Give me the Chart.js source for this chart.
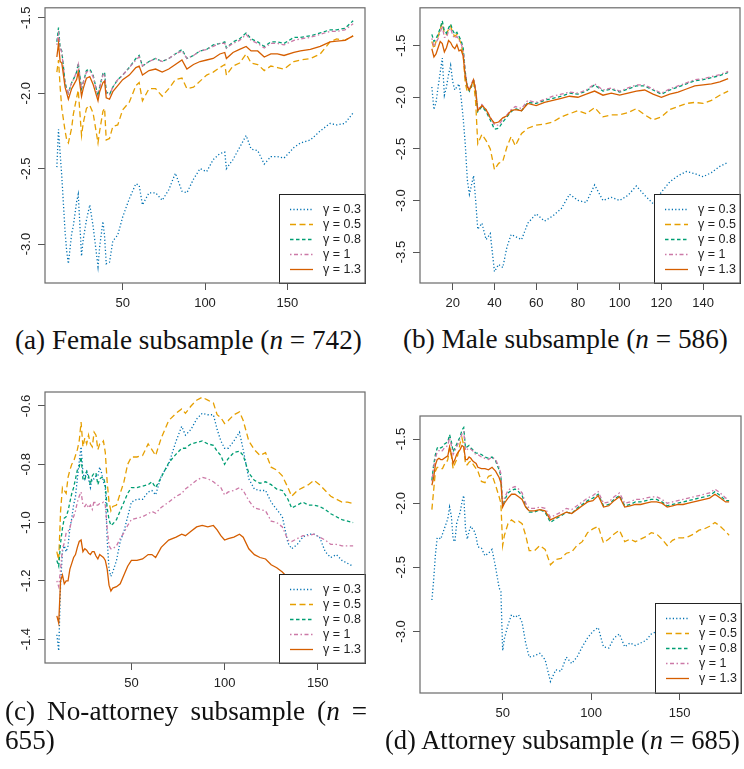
<!DOCTYPE html>
<html><head><meta charset="utf-8">
<script src="https://cdn.jsdelivr.net/npm/chart.js@4.4.1/dist/chart.umd.min.js"></script>
<style>
html,body{margin:0;padding:0;background:#fff;}
#wrap{position:relative;width:744px;height:769px;overflow:hidden;background:#fff;}
canvas{position:absolute;}
.cap{position:absolute;font-family:"Liberation Serif","Times New Roman",serif;color:#111;white-space:nowrap;line-height:1.15;display:inline-block;}
</style></head><body>
<div id="wrap">
<canvas id="cA" width="372" height="320" style="left:0;top:0"></canvas>
<canvas id="cB" width="372" height="320" style="left:372px;top:0"></canvas>
<canvas id="cC" width="372" height="320" style="left:0;top:380px"></canvas>
<canvas id="cD" width="372" height="330" style="left:372px;top:400px"></canvas>
<div id="capA" class="cap">(a) Female subsample (<i>n</i> = 742)</div>
<div id="capB" class="cap">(b) Male subsample (<i>n</i> = 586)</div>
<div id="capC1" class="cap">(c) No-attorney subsample (<i>n</i> =</div>
<div id="capC2" class="cap">655)</div>
<div id="capD" class="cap">(d) Attorney subsample (<i>n</i> = 685)</div>
</div>
<script>
// ---------- DATA ----------
const seriesLabels = ['γ = 0.3','γ = 0.5','γ = 0.8','γ = 1','γ = 1.3'];

// (a) Female subsample
const xFemale = [10,11,12,13,15,16,17,19,20,22,23,25,26,28,30,32,35,36,38,39,40,42,44,47,50,54,58,60,62,66,70,74,78,82,86,89,93,97,101,105,109,112,113,117,121,125,128,132,136,140,144,148,154,158,164,170,176,180,185,190];
const femaleG03 = [-2.49,-2.24,-2.40,-2.55,-2.92,-3.05,-3.13,-2.93,-2.88,-2.72,-2.67,-3.08,-2.97,-2.84,-2.74,-2.88,-3.15,-3.02,-2.85,-2.95,-3.13,-3.12,-2.98,-2.94,-2.82,-2.70,-2.60,-2.61,-2.74,-2.66,-2.66,-2.71,-2.64,-2.53,-2.65,-2.66,-2.57,-2.50,-2.52,-2.44,-2.40,-2.39,-2.50,-2.44,-2.36,-2.28,-2.37,-2.38,-2.47,-2.42,-2.42,-2.43,-2.36,-2.33,-2.31,-2.25,-2.20,-2.21,-2.20,-2.13];
const femaleG05 = [-1.86,-1.78,-1.96,-2.10,-2.25,-2.31,-2.33,-2.23,-2.14,-2.03,-1.98,-2.28,-2.20,-2.10,-2.08,-2.13,-2.33,-2.25,-2.12,-2.10,-2.31,-2.30,-2.22,-2.21,-2.11,-2.06,-1.95,-1.93,-2.05,-1.97,-1.97,-2.02,-1.97,-1.91,-1.90,-1.97,-1.96,-1.92,-1.88,-1.86,-1.83,-1.81,-1.88,-1.82,-1.80,-1.74,-1.80,-1.81,-1.85,-1.82,-1.83,-1.84,-1.79,-1.78,-1.77,-1.74,-1.66,-1.64,-1.65,-1.62];
const femaleG08 = [-1.66,-1.565,-1.70,-1.72,-1.93,-1.97,-2.00,-1.93,-1.91,-1.86,-1.80,-1.97,-1.93,-1.85,-1.84,-1.88,-2.02,-1.96,-1.87,-1.86,-1.99,-2.01,-1.96,-1.91,-1.88,-1.83,-1.77,-1.75,-1.82,-1.79,-1.77,-1.79,-1.77,-1.74,-1.71,-1.77,-1.75,-1.72,-1.71,-1.68,-1.67,-1.66,-1.70,-1.66,-1.64,-1.60,-1.64,-1.66,-1.69,-1.66,-1.66,-1.67,-1.63,-1.63,-1.62,-1.60,-1.58,-1.58,-1.57,-1.52];
const femaleG1 = [-1.68,-1.61,-1.70,-1.73,-1.94,-1.97,-2.00,-1.93,-1.91,-1.86,-1.81,-1.97,-1.93,-1.86,-1.85,-1.89,-2.02,-1.96,-1.88,-1.87,-2.00,-2.01,-1.96,-1.91,-1.88,-1.83,-1.78,-1.76,-1.82,-1.79,-1.77,-1.79,-1.77,-1.74,-1.72,-1.77,-1.75,-1.72,-1.71,-1.69,-1.67,-1.67,-1.70,-1.67,-1.65,-1.61,-1.65,-1.67,-1.70,-1.67,-1.67,-1.68,-1.65,-1.64,-1.63,-1.61,-1.59,-1.59,-1.58,-1.54];
const femaleG13 = [-1.76,-1.67,-1.79,-1.80,-1.96,-2.00,-2.04,-1.97,-1.95,-1.91,-1.86,-2.02,-1.97,-1.90,-1.89,-1.94,-2.05,-1.99,-1.93,-1.92,-2.03,-2.04,-1.99,-1.95,-1.91,-1.88,-1.83,-1.82,-1.88,-1.85,-1.84,-1.86,-1.84,-1.81,-1.78,-1.84,-1.81,-1.79,-1.78,-1.77,-1.74,-1.73,-1.77,-1.73,-1.71,-1.69,-1.72,-1.72,-1.76,-1.74,-1.74,-1.75,-1.73,-1.72,-1.71,-1.69,-1.66,-1.655,-1.65,-1.62];

// (b) Male subsample
const xMale = [10,11,12,13,14,15,16,17,18,19,20,21,22,23,24,25,26,27,28,29,30,31,32,34,36,38,40,42,44,46,48,50,53,56,60,64,68,72,76,80,84,88,92,96,100,104,108,112,116,120,124,128,132,136,140,144,148,152];
const maleG03 = [-1.90,-2.12,-2.05,-1.90,-1.76,-1.62,-1.98,-1.90,-1.78,-1.69,-1.85,-1.93,-1.90,-1.87,-2.00,-2.20,-2.45,-2.80,-2.94,-2.85,-2.76,-3.00,-3.28,-3.22,-3.38,-3.32,-3.69,-3.62,-3.65,-3.45,-3.33,-3.35,-3.38,-3.22,-3.13,-3.20,-3.15,-3.08,-2.94,-3.00,-3.02,-2.85,-3.00,-2.97,-3.00,-2.95,-2.86,-2.95,-3.03,-2.92,-2.82,-2.76,-2.72,-2.74,-2.77,-2.73,-2.67,-2.63];
const maleG05 = [-1.46,-1.53,-1.46,-1.41,-1.34,-1.28,-1.39,-1.39,-1.34,-1.31,-1.38,-1.41,-1.39,-1.43,-1.48,-1.58,-1.86,-1.95,-1.92,-1.90,-1.85,-2.05,-2.45,-2.36,-2.42,-2.50,-2.70,-2.64,-2.62,-2.48,-2.38,-2.47,-2.35,-2.30,-2.27,-2.26,-2.24,-2.19,-2.16,-2.13,-2.16,-2.10,-2.19,-2.17,-2.17,-2.15,-2.11,-2.17,-2.22,-2.19,-2.12,-2.09,-2.06,-2.05,-2.06,-2.03,-1.98,-1.94];
const maleG08 = [-1.39,-1.46,-1.43,-1.39,-1.33,-1.26,-1.36,-1.38,-1.33,-1.29,-1.35,-1.39,-1.37,-1.41,-1.45,-1.52,-1.75,-1.90,-1.94,-1.89,-1.84,-1.93,-2.14,-2.09,-2.14,-2.22,-2.31,-2.30,-2.24,-2.19,-2.14,-2.11,-2.13,-2.05,-2.06,-2.03,-2.01,-1.99,-1.96,-1.97,-1.94,-1.88,-1.94,-1.92,-1.95,-1.92,-1.89,-1.89,-1.93,-1.97,-1.93,-1.90,-1.87,-1.84,-1.83,-1.81,-1.79,-1.76];
const maleG1 = [-1.43,-1.51,-1.47,-1.43,-1.37,-1.31,-1.42,-1.42,-1.36,-1.33,-1.40,-1.43,-1.41,-1.45,-1.48,-1.54,-1.76,-1.89,-1.92,-1.87,-1.82,-1.92,-2.12,-2.07,-2.12,-2.19,-2.27,-2.27,-2.21,-2.17,-2.12,-2.09,-2.11,-2.03,-2.05,-2.02,-1.99,-1.97,-1.95,-1.96,-1.93,-1.87,-1.93,-1.91,-1.94,-1.91,-1.88,-1.88,-1.92,-1.96,-1.92,-1.89,-1.86,-1.83,-1.82,-1.80,-1.78,-1.75];
const maleG13 = [-1.53,-1.61,-1.58,-1.52,-1.46,-1.48,-1.56,-1.52,-1.45,-1.47,-1.51,-1.53,-1.49,-1.55,-1.54,-1.60,-1.80,-1.90,-1.93,-1.88,-1.83,-1.94,-2.13,-2.08,-2.12,-2.20,-2.25,-2.24,-2.20,-2.18,-2.13,-2.12,-2.13,-2.06,-2.08,-2.05,-2.03,-2.01,-1.99,-2.00,-1.97,-1.94,-1.98,-1.96,-1.98,-1.96,-1.94,-1.93,-1.97,-2.00,-1.97,-1.95,-1.92,-1.89,-1.88,-1.87,-1.85,-1.82];

// (c) No-attorney subsample
const xNoAtt = [10,11,12,13,14,15,16,17,18,19,20,21,22,23,24,25,26,27,28,29,30,31,32,33,34,35,36,37,38,39,40,42,44,46,48,50,53,56,59,61,63,66,70,74,77,79,82,85,88,91,94,96,98,100,102,105,108,110,113,116,119,122,125,128,131,134,136,139,142,145,148,151,154,157,160,163,166,169];
const noAttG03 = [-1.385,-1.44,-1.21,-1.10,-1.08,-1.10,-1.08,-1.02,-0.985,-0.94,-0.91,-0.85,-0.79,-0.74,-0.83,-0.85,-0.82,-0.85,-0.88,-0.85,-0.85,-0.84,-0.84,-0.81,-0.83,-0.86,-0.88,-1.06,-1.16,-1.185,-1.17,-1.13,-1.065,-1.03,-0.98,-0.93,-0.92,-0.92,-0.895,-0.89,-0.905,-0.84,-0.80,-0.72,-0.67,-0.70,-0.68,-0.645,-0.625,-0.63,-0.63,-0.68,-0.72,-0.745,-0.745,-0.72,-0.69,-0.75,-0.85,-0.885,-0.89,-0.89,-0.93,-0.955,-0.98,-1.07,-1.09,-1.075,-1.05,-1.04,-1.04,-1.05,-1.10,-1.12,-1.11,-1.13,-1.14,-1.15];
const noAttG05 = [-1.10,-1.13,-0.96,-0.88,-0.89,-0.90,-0.845,-0.82,-0.80,-0.79,-0.77,-0.75,-0.72,-0.655,-0.74,-0.71,-0.73,-0.70,-0.73,-0.74,-0.69,-0.70,-0.75,-0.73,-0.73,-0.72,-0.76,-0.86,-0.93,-0.96,-0.945,-0.94,-0.90,-0.86,-0.80,-0.775,-0.775,-0.77,-0.73,-0.75,-0.77,-0.71,-0.65,-0.625,-0.61,-0.625,-0.60,-0.58,-0.57,-0.58,-0.59,-0.63,-0.64,-0.66,-0.65,-0.63,-0.62,-0.65,-0.72,-0.75,-0.77,-0.76,-0.81,-0.82,-0.84,-0.88,-0.91,-0.89,-0.88,-0.87,-0.855,-0.87,-0.89,-0.91,-0.92,-0.93,-0.93,-0.935];
const noAttG08 = [-1.13,-1.15,-1.07,-1.02,-0.985,-0.98,-0.96,-0.93,-0.90,-0.88,-0.85,-0.82,-0.81,-0.775,-0.85,-0.855,-0.825,-0.84,-0.87,-0.84,-0.83,-0.83,-0.87,-0.85,-0.845,-0.845,-0.87,-0.95,-0.99,-1.01,-1.005,-0.99,-0.96,-0.93,-0.90,-0.88,-0.88,-0.875,-0.87,-0.86,-0.88,-0.845,-0.795,-0.765,-0.745,-0.745,-0.73,-0.725,-0.72,-0.73,-0.735,-0.755,-0.77,-0.80,-0.78,-0.76,-0.755,-0.77,-0.83,-0.855,-0.865,-0.86,-0.87,-0.885,-0.89,-0.92,-0.95,-0.94,-0.93,-0.94,-0.94,-0.945,-0.955,-0.97,-0.98,-0.99,-0.995,-1.00];
const noAttG1 = [-1.20,-1.22,-1.16,-1.09,-1.07,-1.035,-1.03,-1.02,-0.99,-0.98,-0.96,-0.93,-0.91,-0.895,-0.94,-0.945,-0.935,-0.95,-0.94,-0.955,-0.925,-0.94,-0.94,-0.935,-0.935,-0.93,-0.94,-1.02,-1.08,-1.09,-1.09,-1.08,-1.055,-1.035,-1.01,-0.99,-0.985,-0.98,-0.97,-0.962,-0.968,-0.948,-0.93,-0.91,-0.90,-0.885,-0.87,-0.855,-0.845,-0.85,-0.86,-0.87,-0.88,-0.905,-0.895,-0.89,-0.88,-0.89,-0.925,-0.95,-0.955,-0.96,-0.995,-1.00,-1.015,-1.06,-1.065,-1.055,-1.045,-1.045,-1.04,-1.05,-1.06,-1.075,-1.075,-1.08,-1.08,-1.08];
const noAttG13 = [-1.32,-1.345,-1.20,-1.18,-1.21,-1.20,-1.20,-1.16,-1.14,-1.12,-1.11,-1.085,-1.065,-1.06,-1.10,-1.09,-1.095,-1.105,-1.11,-1.10,-1.10,-1.115,-1.125,-1.11,-1.115,-1.12,-1.13,-1.16,-1.215,-1.235,-1.225,-1.22,-1.21,-1.18,-1.15,-1.13,-1.13,-1.125,-1.11,-1.11,-1.12,-1.085,-1.06,-1.05,-1.04,-1.045,-1.03,-1.015,-1.01,-1.015,-1.01,-1.025,-1.045,-1.06,-1.055,-1.05,-1.04,-1.05,-1.09,-1.11,-1.12,-1.125,-1.145,-1.155,-1.17,-1.19,-1.20,-1.195,-1.19,-1.19,-1.185,-1.19,-1.20,-1.21,-1.21,-1.215,-1.22,-1.22];

// (d) Attorney subsample
const xAtt = [10,11,12,13,14,15,16,17,18,19,20,21,22,23,24,25,26,27,28,29,30,31,32,33,34,35,36,38,40,42,44,46,48,49,50,51,53,55,57,59,61,63,65,68,71,74,77,80,83,86,89,92,95,98,101,104,107,110,113,116,119,122,125,128,131,134,137,140,143,146,149,152,155,158,161,164,167,170,173,176,178];
const attG03 = [-2.755,-2.60,-2.40,-2.27,-2.27,-2.28,-2.24,-2.20,-2.16,-2.12,-2.03,-2.10,-2.28,-2.30,-2.16,-2.11,-2.07,-1.99,-1.94,-2.20,-2.28,-2.22,-2.18,-2.20,-2.22,-2.26,-2.34,-2.35,-2.41,-2.39,-2.36,-2.50,-2.66,-2.69,-3.15,-3.055,-2.95,-2.87,-2.89,-2.87,-2.93,-3.09,-3.20,-3.19,-3.17,-3.22,-3.39,-3.30,-3.31,-3.20,-3.25,-3.20,-3.12,-3.05,-3.00,-2.97,-3.12,-3.13,-3.05,-3.02,-3.12,-3.09,-3.11,-3.09,-3.07,-3.02,-3.00,-2.98,-2.95,-2.97,-2.94,-2.92,-2.90,-2.92,-2.89,-2.88,-2.86,-2.85,-2.87,-2.86,-2.88];
const attG05 = [-2.05,-1.90,-1.75,-1.72,-1.72,-1.73,-1.73,-1.70,-1.69,-1.66,-1.57,-1.63,-1.73,-1.69,-1.66,-1.60,-1.53,-1.49,-1.55,-1.70,-1.70,-1.68,-1.67,-1.69,-1.71,-1.73,-1.75,-1.83,-1.84,-1.79,-1.78,-1.86,-1.95,-2.00,-2.33,-2.25,-2.16,-2.13,-2.15,-2.14,-2.16,-2.25,-2.37,-2.37,-2.33,-2.36,-2.48,-2.44,-2.43,-2.39,-2.38,-2.33,-2.30,-2.23,-2.20,-2.18,-2.31,-2.28,-2.24,-2.21,-2.30,-2.28,-2.30,-2.28,-2.26,-2.23,-2.24,-2.28,-2.33,-2.29,-2.27,-2.27,-2.26,-2.24,-2.21,-2.20,-2.18,-2.15,-2.18,-2.22,-2.25];
const attG08 = [-1.82,-1.70,-1.62,-1.57,-1.56,-1.57,-1.56,-1.54,-1.53,-1.52,-1.465,-1.52,-1.60,-1.57,-1.54,-1.51,-1.48,-1.43,-1.41,-1.57,-1.56,-1.55,-1.57,-1.58,-1.60,-1.61,-1.61,-1.62,-1.64,-1.65,-1.64,-1.67,-1.74,-1.79,-2.02,-1.98,-1.92,-1.90,-1.89,-1.91,-1.94,-2.02,-2.07,-2.07,-2.05,-2.07,-2.15,-2.12,-2.10,-2.07,-2.08,-2.04,-2.01,-1.98,-1.96,-1.93,-2.02,-2.01,-1.97,-1.94,-2.02,-2.01,-1.99,-1.99,-1.98,-1.97,-1.97,-1.99,-2.02,-2.01,-2.00,-1.99,-1.98,-1.97,-1.96,-1.95,-1.94,-1.91,-1.94,-1.98,-1.98];
const attG1 = [-1.83,-1.72,-1.65,-1.60,-1.59,-1.60,-1.59,-1.57,-1.56,-1.55,-1.49,-1.55,-1.62,-1.59,-1.56,-1.53,-1.50,-1.46,-1.44,-1.59,-1.58,-1.57,-1.58,-1.59,-1.61,-1.62,-1.62,-1.64,-1.65,-1.66,-1.64,-1.66,-1.72,-1.77,-2.00,-1.96,-1.90,-1.88,-1.87,-1.89,-1.92,-2.00,-2.04,-2.04,-2.03,-2.04,-2.11,-2.09,-2.07,-2.04,-2.05,-2.02,-1.99,-1.96,-1.94,-1.91,-2.00,-1.99,-1.95,-1.92,-2.00,-1.99,-1.97,-1.97,-1.96,-1.95,-1.95,-1.97,-2.00,-1.99,-1.98,-1.97,-1.96,-1.95,-1.94,-1.93,-1.92,-1.89,-1.92,-1.96,-1.96];
const attG13 = [-1.86,-1.80,-1.70,-1.66,-1.65,-1.66,-1.66,-1.65,-1.64,-1.63,-1.56,-1.62,-1.69,-1.66,-1.62,-1.60,-1.58,-1.55,-1.56,-1.66,-1.66,-1.64,-1.65,-1.67,-1.68,-1.69,-1.72,-1.73,-1.73,-1.74,-1.72,-1.75,-1.80,-1.84,-2.03,-2.00,-1.96,-1.93,-1.93,-1.95,-1.97,-2.03,-2.06,-2.06,-2.05,-2.06,-2.13,-2.11,-2.09,-2.07,-2.08,-2.05,-2.02,-1.99,-1.98,-1.94,-2.03,-2.02,-1.98,-1.95,-2.03,-2.02,-2.01,-2.01,-2.00,-1.99,-1.99,-2.00,-2.03,-2.02,-2.01,-2.01,-2.00,-1.99,-1.98,-1.97,-1.96,-1.93,-1.96,-1.99,-1.99];

// tick values
const xTicksFemale = [50,100,150];
const xTicksMale = [20,40,60,80,100,120,140];
const xTicksNoAtt = [50,100,150];
const xTicksAtt = [50,100,150];
const yTicksFemale = [-1.5,-2.0,-2.5,-3.0];
const yTicksMale = [-1.5,-2.0,-2.5,-3.0,-3.5];
const yTicksNoAtt = [-0.6,-0.8,-1.0,-1.2,-1.4];
const yTicksAtt = [-1.5,-2.0,-2.5,-3.0];

// ---------- STYLE ----------
const COLORS = ['#0072B2','#E69F00','#009E73','#CC79A7','#D55E00'];
const DASHES = [[1.2,2.2],[6,3.5],[3.5,2.5],[1.5,2.5,4,2.5],[]];
const TICKFONT = {family:'"Liberation Sans", Arial, sans-serif', size:13};

function makeChart(id, xs, ys, cfg) {
  const canvas = document.getElementById(id);
  const W = canvas.width, H = canvas.height;
  const box = cfg.box;
  const datasets = ys.map((arr, i) => ({
    label: seriesLabels[i],
    data: xs.map((x, j) => ({x: x, y: arr[j]})),
    borderColor: COLORS[i], borderWidth: 1.3, borderDash: DASHES[i],
    pointRadius: 0, fill: false, tension: 0, order: 4 - i
  }));
  const frame = {
    id: 'frame',
    afterDatasetsDraw(chart) {
      const ctx = chart.ctx, a = chart.chartArea;
      ctx.save();
      const lw = 86, lh = cfg.legH || 89;
      const lx = Math.round(a.right - lw), ly = Math.round(a.bottom - lh);
      ctx.fillStyle = '#fff';
      ctx.fillRect(lx, ly, lw, lh);
      ctx.strokeStyle = '#222'; ctx.lineWidth = 1;
      ctx.strokeRect(lx + 0.5, ly + 0.5, lw, lh);
      chart.data.datasets.forEach((ds, i) => {
        const y = ly + 15.5 + i * 15;
        ctx.strokeStyle = ds.borderColor; ctx.lineWidth = 1.3; ctx.setLineDash(ds.borderDash);
        ctx.beginPath(); ctx.moveTo(lx + 11, y); ctx.lineTo(lx + 34, y); ctx.stroke();
        ctx.setLineDash([]);
        ctx.fillStyle = '#222';
        ctx.font = '12.5px "Liberation Sans", Arial, sans-serif';
        ctx.textBaseline = 'middle'; ctx.textAlign = 'left';
        ctx.fillText(ds.label, lx + 44, y);
      });
      ctx.strokeStyle = '#6a6a6a'; ctx.lineWidth = 1.2;
      ctx.strokeRect(a.left, a.top, a.right - a.left, a.bottom - a.top);
      ctx.restore();
    }
  };
  const gridOpts = {display: true, drawOnChartArea: false, drawTicks: true, tickLength: 7, color: '#555', lineWidth: 1};
  return new Chart(canvas, {
    type: 'line',
    data: {datasets: datasets},
    options: {
      responsive: false, animation: false, devicePixelRatio: 1,
      layout: {padding: {left: 0, top: box.t, right: W - box.r, bottom: 0}},
      plugins: {legend: {display: false}, tooltip: {enabled: false}},
      scales: {
        x: {
          type: 'linear', min: cfg.xMin, max: cfg.xMax,
          afterBuildTicks: s => { s.ticks = cfg.xTicks.map(v => ({value: v})); },
          afterFit: s => { s.height = H - box.b; },
          grid: gridOpts, border: {display: false},
          ticks: {autoSkip: false, minRotation: 0, maxRotation: 0, padding: 6, color: '#222', font: TICKFONT,
                  callback: v => String(v)}
        },
        y: {
          type: 'linear', min: cfg.yMin, max: cfg.yMax,
          afterBuildTicks: s => { s.ticks = cfg.yTicks.map(v => ({value: v})); },
          afterFit: s => { s.width = box.l; },
          grid: gridOpts, border: {display: false},
          ticks: {autoSkip: false, minRotation: 90, maxRotation: 90, crossAlign: 'center', padding: 0,
                  color: '#222', font: TICKFONT, callback: v => Number(v).toFixed(1)}
        }
      }
    },
    plugins: [frame]
  });
}

makeChart('cA', xFemale, [femaleG03, femaleG05, femaleG08, femaleG1, femaleG13],
  {box: {l: 45, r: 365, t: 7, b: 283}, xMin: 2.8, xMax: 197.2, yMin: -3.258, yMax: -1.434,
   xTicks: xTicksFemale, yTicks: yTicksFemale});
makeChart('cB', xMale, [maleG03, maleG05, maleG08, maleG1, maleG13],
  {box: {l: 48, r: 368, t: 7, b: 283}, xMin: 4.32, xMax: 157.68, yMin: -3.80, yMax: -1.133,
   xTicks: xTicksMale, yTicks: yTicksMale});
makeChart('cC', xNoAtt, [noAttG03, noAttG05, noAttG08, noAttG1, noAttG13],
  {box: {l: 45, r: 365, t: 12, b: 283}, xMin: 3.64, xMax: 175.36, yMin: -1.482, yMax: -0.552,
   xTicks: xTicksNoAtt, yTicks: yTicksNoAtt});
makeChart('cD', xAtt, [attG03, attG05, attG08, attG1, attG13],
  {box: {l: 48, r: 369, t: 16, b: 293}, xMin: 3.28, xMax: 184.72, yMin: -3.48, yMax: -1.32,
   xTicks: xTicksAtt, yTicks: yTicksAtt, legH: 90});

// ---------- CAPTIONS ----------
function fitCap(id, left, width, yc) {
  const el = document.getElementById(id);
  el.style.fontSize = '20px';
  const w = el.getBoundingClientRect().width;
  const fs = 20 * width / w;
  el.style.fontSize = fs + 'px';
  el.style.left = left + 'px';
  el.style.top = (yc - 0.68 * fs) + 'px';
  return fs;
}
const fsA = fitCap('capA', 15, 347, 343);
fitCap('capB', 403, 325, 343);
fitCap('capD', 385, 355, 743);
(function () {
  const c1 = document.getElementById('capC1');
  c1.style.fontSize = fsA + 'px';
  c1.style.whiteSpace = 'normal';
  c1.style.width = '362px';
  c1.style.textAlign = 'justify';
  c1.style.textAlignLast = 'justify';
  c1.style.left = '5px';
  c1.style.top = (714 - 0.68 * fsA) + 'px';
  const c2 = document.getElementById('capC2');
  c2.style.fontSize = fsA + 'px';
  c2.style.left = '5px';
  c2.style.top = (743 - 0.68 * fsA) + 'px';
})();
</script>
</body></html>
